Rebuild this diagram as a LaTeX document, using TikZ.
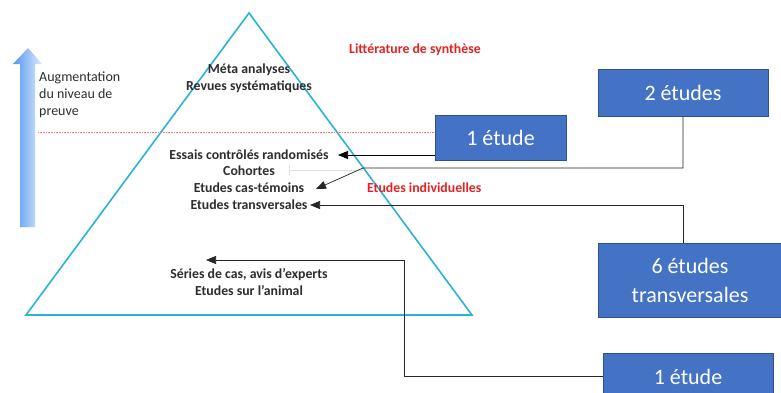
\documentclass[tikz,border=0pt]{standalone}
\usepackage{fontspec}
\setmainfont{Carlito}
\usetikzlibrary{arrows.meta, positioning}
\definecolor{pyrblue}{RGB}{40,180,215}
\definecolor{boxblue}{RGB}{68,114,196}
\definecolor{boxedge}{RGB}{47,82,143}
\definecolor{synred}{RGB}{225,35,35}
\definecolor{upblue}{RGB}{85,150,240}
\definecolor{ink}{RGB}{45,45,45}
\tikzset{
  level/.style     = {font=\fontsize{13.8}{17}\selectfont\bfseries, align=center,
                      text=ink, inner sep=1pt},
  redlabel/.style  = {font=\fontsize{13.8}{15}\selectfont\bfseries, text=synred,
                      anchor=west, inner sep=0pt},
  countbox/.style  = {rectangle, draw=boxedge, fill=boxblue, line width=0.8pt,
                      text=white, font=\fontsize{22}{29}\selectfont, align=center,
                      inner sep=0pt},
  link/.style      = {-{Triangle[length=10pt,width=8pt]}, line width=0.7pt}
}
\begin{document}
\begin{tikzpicture}[x=1pt, y=-1pt]
  \clip (0,0) rectangle (781,392);
  \fill[white] (0,0) rectangle (781,392);
  % rising level arrow
  \shade[left color=upblue, right color=upblue!20]
    (20,227) -- (20,64) -- (13,64) -- (28,48) -- (42,64) -- (35,64) -- (35,227) -- cycle;
  \node[align=left, anchor=west, inner sep=0pt, text=ink, font=\fontsize{14}{17}\selectfont]
    (gain) at (39,95) {Augmentation\\du niveau de\\preuve};
  % pyramid
  \draw[pyrblue, line width=1.6pt, line join=miter] (249,13) -- (472,315) -- (26,315) -- cycle;
  \draw[red!55, densely dotted, line width=0.6pt] (38,132) -- (435,132);
  \node[level] (meta)    at (249,78)  {Méta analyses\\Revues systématiques};
  \node[level] (essais)  at (249,155) {Essais contrôlés randomisés};
  \node[level] (cohort)  at (249,171) {Cohortes};
  \node[level] (castem)  at (249,188) {Etudes cas-témoins};
  \node[level] (transv)  at (249,205) {Etudes transversales};
  \node[level] (series)  at (249,282) {Séries de cas, avis d’experts\\Etudes sur l’animal};
  \node[redlabel] (synth) at (349,50)  {Littérature de synthèse};
  \node[redlabel] (indiv) at (367,188) {Etudes individuelles};
  \draw[gray!25, line width=0.4pt] (289,165) -- (289,175) (289,170) -- (363,170);
  % study counts
  \node[countbox, minimum width=131pt, minimum height=45pt] (one)   at (500.5,137.5) {1 étude};
  \node[countbox, minimum width=170pt, minimum height=47pt] (two)   at (683,92.5)    {2 études};
  \node[countbox, minimum width=184pt, minimum height=74pt] (six)   at (690,280)     {6 études\\transversales};
  \node[countbox, minimum width=170pt, minimum height=47pt] (last)  at (688,376.5)   {1 étude};
  % connectors
  \coordinate (rctTip)  at (338,155);
  \coordinate (bendTwo) at (363,168);
  \coordinate (ccTip)   at (316,189);
  \coordinate (kneeSix) at (683,205);
  \coordinate (trTip)   at (310,205);
  \coordinate (kneeOne) at (404,260);
  \coordinate (seTip)   at (206,260);
  \draw[link] (one.west |- rctTip) -- (rctTip);
  \draw[link, black!85] (two.south) |- (bendTwo) -- (ccTip);
  \draw[link, black!85] (kneeSix |- six.north) -- (kneeSix) -- (trTip);
  \draw[link, black!85] (last.west) -| (kneeOne) -- (seTip);
\end{tikzpicture}
\end{document}
